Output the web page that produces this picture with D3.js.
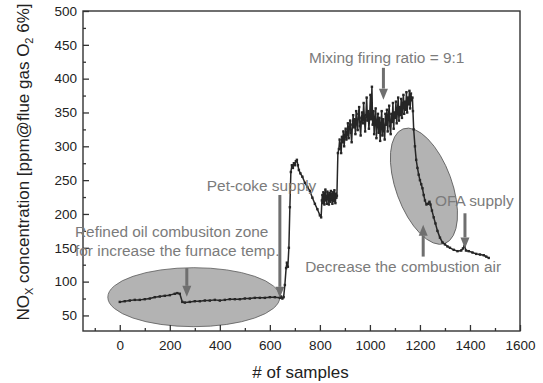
<!DOCTYPE html>
<html>
<head>
<meta charset="utf-8">
<script src="https://cdn.jsdelivr.net/npm/d3@7"></script>
<style>
  body { margin: 0; background: #fff; }
  svg { font-family: "Liberation Sans", Arial, sans-serif; }
</style>
</head>
<body>
<div id="chart"></div>
<script>
// NOx record as [sample no., concentration ppm @ 6% O2]
var oilZone = [[0, 70], [20, 71], [40, 72], [60, 73], [80, 73], [100, 74], [120, 75], [140, 77], [160, 78],
  [180, 79], [200, 80], [220, 82], [230, 83], [240, 82], [250, 70], [260, 69], [280, 70], [300, 71],
  [320, 71], [340, 72], [360, 72], [380, 73], [400, 72], [420, 73], [440, 74], [460, 74], [480, 74],
  [500, 75], [520, 75], [540, 76], [560, 76], [580, 76], [600, 77], [620, 77], [640, 76]];
var petCoke = [[645, 78], [650, 75], [655, 77], [660, 95], [665, 120], [668, 128], [672, 122], [676, 150],
  [680, 210], [684, 262], [688, 272], [692, 268], [696, 275], [700, 272], [704, 278], [708, 280],
  [712, 272], [716, 265], [722, 260], [730, 255], [740, 246], [750, 240], [760, 234], [770, 224],
  [780, 215], [790, 207], [800, 198], [805, 195],
  [808, 220], [810, 228], [812, 216], [814, 232], [816, 224], [818, 214], [820, 230], [822, 236],
  [824, 220], [826, 226], [828, 215], [830, 233], [832, 222], [834, 228], [836, 214], [838, 231],
  [840, 225], [842, 218], [844, 234], [846, 221], [848, 229], [850, 215], [852, 232], [854, 226],
  [856, 219], [858, 235], [860, 223], [862, 216], [864, 230], [866, 224], [868, 227], [872, 290]];
var mixing = [[876, 296], [879, 310], [882, 302], [885, 290], [888, 314], [891, 306], [894, 322], [897, 300],
  [900, 316], [903, 326], [906, 310], [909, 318], [912, 334], [915, 312], [918, 328], [921, 338],
  [924, 320], [927, 306], [930, 332], [933, 346], [936, 328], [939, 340], [942, 318], [945, 352],
  [948, 336], [951, 324], [954, 348], [957, 358], [960, 330], [963, 316], [966, 342], [969, 350],
  [972, 334], [975, 364], [978, 340], [981, 322], [984, 346], [987, 372], [990, 338], [993, 352],
  [996, 326], [999, 344], [1002, 376], [1005, 340], [1008, 388], [1011, 332], [1014, 352], [1017, 318],
  [1020, 340], [1023, 356], [1026, 312], [1029, 334], [1032, 348], [1035, 320], [1038, 342], [1041, 308],
  [1044, 330], [1047, 352], [1050, 316], [1053, 340], [1056, 326], [1059, 310], [1062, 348], [1065, 332],
  [1068, 354], [1071, 322], [1074, 344], [1077, 360], [1080, 330], [1083, 318], [1086, 348], [1089, 336],
  [1092, 364], [1095, 326], [1098, 350], [1101, 342], [1104, 366], [1107, 334], [1110, 352], [1113, 372],
  [1116, 338], [1119, 358], [1122, 346], [1125, 370], [1128, 342], [1131, 362], [1134, 376], [1137, 348],
  [1140, 366], [1143, 354], [1146, 380], [1149, 350], [1152, 372], [1155, 362], [1158, 382], [1161, 356],
  [1164, 378], [1167, 368]];
var airCut = [[1170, 372], [1172, 352], [1175, 325], [1180, 300], [1185, 280], [1190, 268], [1195, 258],
  [1200, 250], [1205, 244], [1210, 238], [1215, 228], [1220, 220], [1226, 214], [1232, 215], [1238, 218],
  [1242, 214], [1248, 205], [1255, 195], [1262, 186], [1270, 175], [1280, 165], [1290, 158], [1300, 155],
  [1310, 152], [1320, 150], [1335, 147], [1350, 145], [1365, 146], [1372, 149], [1378, 153], [1384, 146],
  [1395, 145], [1410, 143], [1425, 141], [1440, 140], [1455, 139], [1465, 137], [1475, 135]];

var xMajor = [0, 200, 400, 600, 800, 1000, 1200, 1400, 1600];
var xMinor = [-100, 100, 300, 500, 700, 900, 1100, 1300, 1500];
var yMajor = [50, 100, 150, 200, 250, 300, 350, 400, 450, 500];
var yMinor = [75, 125, 175, 225, 275, 325, 375, 425, 475];

var W = 543, H = 383;
var margin = {top: 11, left: 83, right: 23, bottom: 52};

var svg = d3.select('#chart').append('svg')
  .attr('width', W)
  .attr('height', H);

var x = d3.scaleLinear().domain([-147, 1600]).range([margin.left, W - margin.right]);
var y = d3.scaleLinear().domain([27, 500]).range([H - margin.bottom, margin.top]);

var grey = '#6f6f6f';
var textGrey = '#7b7b7b';

// shaded zones
svg.append('ellipse')
  .attr('cx', x(296)).attr('cy', y(77))
  .attr('rx', 86).attr('ry', 29.5)
  .attr('fill', '#b3b3b3').attr('stroke', '#5a5a5a').attr('stroke-width', 0.8);
svg.append('ellipse')
  .attr('transform', 'translate(' + x(1216) + ',' + y(241) + ') rotate(-20)')
  .attr('rx', 28).attr('ry', 61)
  .attr('fill', '#b3b3b3').attr('stroke', '#5a5a5a').attr('stroke-width', 0.8);

// axes (ticks point inward)
var fmt = d3.format('d');
var gx = svg.append('g').attr('transform', 'translate(0,' + y.range()[0] + ')');
gx.call(d3.axisBottom(x).tickValues(xMajor).tickFormat(fmt).tickSize(-6).tickSizeOuter(0).tickPadding(9));
var gxm = svg.append('g').attr('transform', 'translate(0,' + y.range()[0] + ')');
gxm.call(d3.axisBottom(x).tickValues(xMinor).tickSize(-3).tickSizeOuter(0).tickFormat(''));

var gy = svg.append('g').attr('transform', 'translate(' + x.range()[0] + ',0)');
gy.call(d3.axisLeft(y).tickValues(yMajor).tickFormat(fmt).tickSize(-6).tickSizeOuter(0).tickPadding(6));
var gym = svg.append('g').attr('transform', 'translate(' + x.range()[0] + ',0)');
gym.call(d3.axisLeft(y).tickValues(yMinor).tickSize(-3).tickSizeOuter(0).tickFormat(''));

svg.selectAll('.domain').remove();
svg.selectAll('.tick line').attr('stroke', '#333').attr('stroke-width', 1.3);
svg.selectAll('.tick text').attr('fill', '#222').style('font-size', '13.5px');

svg.append('rect')
  .attr('x', x.range()[0]).attr('y', y.range()[1])
  .attr('width', x.range()[1] - x.range()[0])
  .attr('height', y.range()[0] - y.range()[1])
  .attr('fill', 'none').attr('stroke', '#333').attr('stroke-width', 1.4);

// data line with small square symbols
var pts = oilZone.concat(petCoke, mixing, airCut);
var line = d3.line().x(function(d) { return x(d[0]); }).y(function(d) { return y(d[1]); });
svg.append('path')
  .datum(pts)
  .attr('d', line)
  .attr('fill', 'none')
  .attr('stroke', '#262626')
  .attr('stroke-width', 1.5)
  .attr('stroke-linejoin', 'round');
svg.selectAll('rect.mk')
  .data(pts)
  .enter().append('rect')
  .attr('class', 'mk')
  .attr('x', function(d) { return x(d[0]) - 1.2; })
  .attr('y', function(d) { return y(d[1]) - 1.2; })
  .attr('width', 2.4).attr('height', 2.4)
  .attr('fill', '#262626');

// arrows: from (s, v0) pointing to (s, v1)
function arrow(s, v0, v1) {
  var px = x(s), p0 = y(v0), p1 = y(v1);
  var dir = p1 > p0 ? 1 : -1;
  var headLen = 11, headW = 4.5;
  svg.append('line')
    .attr('x1', px).attr('x2', px)
    .attr('y1', p0).attr('y2', p1 - dir * headLen)
    .attr('stroke', grey).attr('stroke-width', 3);
  svg.append('path')
    .attr('d', 'M' + (px - headW) + ',' + (p1 - dir * headLen) +
               'L' + (px + headW) + ',' + (p1 - dir * headLen) +
               'L' + px + ',' + p1 + 'Z')
    .attr('fill', grey);
}
arrow(268, 120, 77.5);
arrow(640, 228, 76);
arrow(1054, 416, 369);
arrow(1213, 137, 184);
arrow(1380, 201, 149);

function note(s, v, str, anchor) {
  svg.append('text')
    .attr('x', x(s)).attr('y', y(v))
    .attr('text-anchor', anchor || 'start')
    .attr('fill', textGrey)
    .style('font-size', '15.4px')
    .text(str);
}
note(1067, 423, 'Mixing firing ratio = 9:1', 'middle');
note(348, 234, 'Pet-coke supply');
note(-179, 166.4, 'Refined oil combusiton zone');
note(-179, 138, 'for increase the furnace temp.');
note(741, 114, 'Decrease the combustion air');
note(1260, 211.8, 'OFA supply');

// axis titles
svg.append('text')
  .attr('x', (x.range()[0] + x.range()[1]) / 2 - 1)
  .attr('y', 378)
  .attr('text-anchor', 'middle')
  .attr('fill', '#222')
  .style('font-size', '17px')
  .text('# of samples');

var yt = svg.append('text')
  .attr('transform', 'translate(29,' + 162 + ') rotate(-90)')
  .attr('text-anchor', 'middle')
  .attr('fill', '#222')
  .style('font-size', '17px');
yt.append('tspan').text('NO');
yt.append('tspan').attr('dy', 4).style('font-size', '11px').text('X');
yt.append('tspan').attr('dy', -4).text(' concentration [ppm@flue gas O');
yt.append('tspan').attr('dy', 4).style('font-size', '11px').text('2');
yt.append('tspan').attr('dy', -4).text(' 6%]');
</script>
</body>
</html>
